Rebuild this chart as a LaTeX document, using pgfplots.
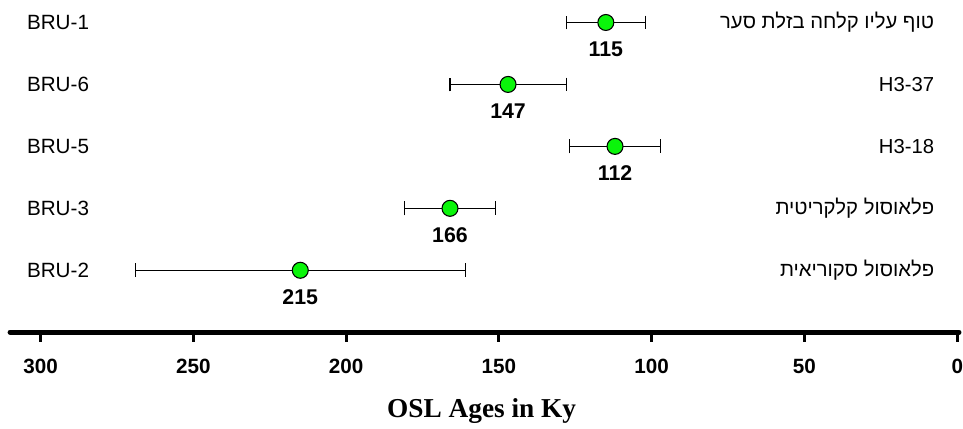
\documentclass[border=0pt]{standalone}
\usepackage{fontspec}
\setmainfont{Liberation Sans}
\newfontfamily\hebfont[Script=Hebrew]{Liberation Sans}
\newfontfamily\seriffont{Liberation Serif}
\usepackage{pgfplots}
\pgfplotsset{compat=1.18}
\usepackage{pgfplotstable}
\TeXXeTstate=1
\definecolor{dotgreen}{RGB}{10,245,10}

% OSL ages (ky) with 1-sigma errors; row 5 is the top sample
\pgfplotstableread{
row age err
5   115 13
4   147 19
3   112 15
2   166 15
1   215 54
}\osldata

\begin{document}
\begin{tikzpicture}
\begin{axis}[
  scale only axis,
  width=712.5pt, height=249.4pt,
  x dir=reverse,
  xmin=-0.6, xmax=310,
  ymin=0, ymax=5.363,
  axis x line*=bottom,
  axis y line=none,
  x axis line style={line width=3.6pt, -, line cap=round},
  xtick={0,50,...,300},
  tick align=outside,
  major tick length=7pt,
  x tick style={line width=2.2pt, black},
  /pgf/number format/assume math mode=true,
  xticklabel style={font=\bfseries\fontsize{15.5}{18}\selectfont, inner sep=0pt, yshift=-13pt},
  xlabel={\seriffont\bfseries OSL Ages in Ky},
  xlabel style={font=\fontsize{20.5}{24}\selectfont, inner sep=0pt, at={(axis description cs:0.497,0)}, anchor=center, yshift=-59.5pt},
  clip=false,
]
  % horizontal error bars with vertical caps
  \addplot[draw=none, mark=none, forget plot,
    error bars/.cd, x dir=both, x explicit,
    error mark=|,
    error bar style={black, line width=0.8pt},
    error mark options={black, line width=0.8pt, mark size=5.2pt}]
    table[x=age, y=row, x error=err] {\osldata};
  % age markers with value labels
  \addplot[only marks, mark=*, mark size=6pt,
    mark options={fill=dotgreen, draw=black, line width=0.8pt},
    point meta=x,
    nodes near coords,
    nodes near coords style={anchor=center, yshift=-20pt,
      font=\bfseries\fontsize{16}{19}\selectfont,
      /pgf/number format/.cd, fixed, precision=0}]
    table[x=age, y=row] {\osldata};

  % sample names
  \begin{scope}[every node/.style={anchor=west, inner sep=0pt, font=\fontsize{15.5}{18}\selectfont}]
    \node at (axis cs:304.5,5) {BRU-1};
    \node at (axis cs:304.5,4) {BRU-6};
    \node at (axis cs:304.5,3) {BRU-5};
    \node at (axis cs:304.5,2) {BRU-3};
    \node at (axis cs:304.5,1) {BRU-2};
  \end{scope}
  % unit descriptions
  \begin{scope}[every node/.style={anchor=east, inner sep=0pt, font=\fontsize{15.2}{18}\selectfont}]
    \node at (axis cs:7.5,5) {\hebfont\beginR טוף עליו קלחה בזלת סער\endR};
    \node at (axis cs:7.5,4) {H3-37};
    \node at (axis cs:7.5,3) {H3-18};
    \node at (axis cs:7.5,2) {\hebfont\beginR פלאוסול קלקריטית\endR};
    \node at (axis cs:7.5,1) {\hebfont\beginR פלאוסול סקוריאית\endR};
  \end{scope}
\end{axis}
\path (current axis.south west) ++(-7.5pt,-72.4pt) coordinate (bbA);
\path (current axis.north east) ++(2.25pt,0pt) coordinate (bbB);
\path (bbA) rectangle (bbB);
\end{tikzpicture}
\end{document}
